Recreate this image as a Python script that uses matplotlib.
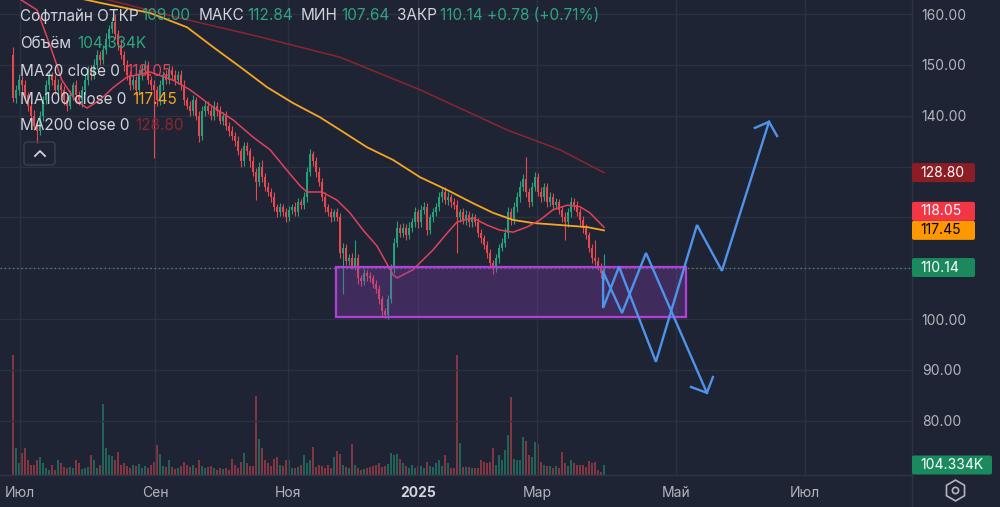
import numpy as np
import matplotlib
matplotlib.use("Agg")
import matplotlib.pyplot as plt
from matplotlib.patches import Rectangle, FancyBboxPatch

plt.rcParams['font.family'] = ['Inter', 'DejaVu Sans']

# ---- daily bars, Softline ----
first_open = 152.0
closes = [
    143.5, 145, 147, 146, 144, 142, 140, 138, 137, 140,
    143, 146, 148, 147, 145, 146, 145, 143, 142, 144,
    146, 144, 143, 145, 147, 149, 148, 150, 152, 151,
    153, 155, 157, 158.5, 156, 154, 152, 150, 148, 146,
    147, 145, 148, 149, 150, 147, 146, 145, 143, 146,
    148, 147, 149, 148, 147, 148, 146, 143, 142, 141,
    143, 140, 136, 141, 142, 141, 140, 142, 141, 139,
    140, 138, 137, 136, 135, 133, 131, 134, 133, 131,
    129, 127, 130, 128, 126, 125, 124, 122, 121, 122,
    121, 120, 121.5, 122, 121, 123, 122.5, 124, 129, 132.5,
    131, 129, 127, 124, 122, 121, 120, 121, 120, 113,
    114, 111.5, 112, 110.5, 112, 108, 107.5, 109, 108.5, 108,
    107, 106, 104, 101.5, 100.8, 104, 110, 115, 118, 117,
    118, 116.5, 118, 119, 121, 119, 121.5, 122, 117.5, 120,
    121, 122, 124, 125, 123.5, 124, 123, 122.5, 120, 121,
    119.5, 120.5, 119, 120, 119, 117, 116, 114.5, 113, 111,
    110, 112, 114, 115, 117, 121, 119.5, 122, 124, 126,
    127.5, 125, 123, 126, 128, 125, 124, 126, 123, 124,
    122.5, 123, 121.5, 120, 119, 121, 123, 122.5, 121, 119.5,
    118, 116.5, 114, 112, 111.5, 110.5, 109, 110.14,
]
wick_hi = [
    1.5, 1.0, 1.2, 0.8, 1.0, 0.6, 0.9, 1.2, 0.7, 1.0,
    0.8, 1.1, 0.9, 0.6, 1.0, 1.2, 0.7, 0.9, 0.8, 1.0,
    0.7, 1.0, 0.8, 0.9, 1.2, 0.8, 1.0, 1.1, 0.9, 0.8,
    1.0, 1.2, 0.9, 1.0, 1.5, 0.8, 1.0, 0.7, 0.9, 0.8,
    1.0, 0.8, 1.2, 0.9, 1.0, 0.7, 0.8, 1.0, 0.9, 1.1,
    0.8, 1.0, 0.9, 0.7, 1.0, 0.8, 0.9, 1.0, 0.6, 0.8,
    1.0, 0.7, 0.9, 1.0, 0.8, 0.9, 1.0, 0.8, 0.7, 0.9,
    0.8, 1.0, 0.7, 0.9, 0.8, 1.0, 0.6, 0.8, 0.9, 0.7,
    1.0, 0.8, 0.9, 1.2, 0.8, 1.0, 0.7, 0.9, 0.6, 0.8,
    0.7, 0.9, 0.8, 0.6, 1.0, 0.8, 0.7, 0.9, 1.0, 1.0,
    0.6, 0.8, 1.0, 0.7, 0.9, 0.6, 0.8, 0.7, 0.9, 0.8,
    0.9, 0.7, 0.8, 1.0, 3.5, 0.8, 0.6, 0.9, 0.7, 0.8,
    0.7, 0.6, 0.8, 0.5, 0.6, 0.8, 0.9, 1.0, 1.2, 0.8,
    0.9, 0.7, 1.0, 0.8, 1.0, 0.7, 0.9, 1.0, 0.8, 0.7,
    0.9, 0.8, 1.0, 0.7, 1.0, 1.0, 0.6, 0.8, 0.9, 0.7,
    0.8, 0.9, 0.7, 0.8, 0.6, 0.8, 0.7, 0.6, 0.8, 0.7,
    0.6, 0.9, 0.8, 1.0, 0.9, 1.0, 0.8, 1.1, 1.0, 1.2,
    1.0, 4.4, 0.8, 1.0, 1.0, 0.8, 0.9, 0.7, 0.8, 1.0,
    0.8, 0.9, 0.7, 0.8, 1.0, 0.9, 1.0, 0.8, 0.7, 0.9,
    0.8, 0.7, 0.6, 0.8, 3.5, 0.7, 0.6, 2.7,
]
wick_lo = [
    0.8, 1.0, 0.9, 1.2, 0.8, 1.0, 1.1, 0.9, 2.4, 0.8,
    1.0, 0.7, 0.9, 1.0, 0.8, 0.9, 1.1, 0.8, 1.0, 0.7,
    0.9, 1.0, 0.8, 1.2, 0.7, 0.9, 1.0, 0.8, 0.9, 1.0,
    0.8, 0.9, 1.0, 0.7, 0.9, 1.0, 0.8, 1.2, 0.9, 1.0,
    0.8, 1.0, 0.7, 0.9, 1.0, 0.8, 0.9, 13.3, 1.0, 0.8,
    0.9, 0.7, 0.8, 1.0, 0.9, 0.8, 1.0, 0.9, 0.7, 1.0,
    0.8, 0.9, 1.2, 0.8, 1.0, 0.7, 0.9, 0.8, 1.0, 0.7,
    0.9, 0.8, 1.0, 0.7, 0.9, 0.8, 1.0, 0.9, 0.8, 1.0,
    0.9, 3.6, 0.8, 1.0, 0.9, 0.7, 1.0, 0.8, 0.9, 0.7,
    0.8, 1.0, 0.7, 0.9, 0.8, 0.7, 0.9, 0.8, 1.0, 0.9,
    0.8, 1.0, 0.9, 0.8, 1.0, 0.7, 0.9, 0.8, 0.7, 1.0,
    8.0, 0.8, 0.9, 0.7, 0.8, 1.0, 0.9, 0.8, 1.0, 0.7,
    0.9, 0.8, 1.0, 0.9, 0.5, 0.8, 0.9, 1.0, 0.8, 0.9,
    0.8, 1.0, 0.7, 0.9, 0.8, 1.0, 0.8, 0.9, 1.0, 0.8,
    0.9, 0.8, 0.7, 0.9, 0.8, 1.0, 0.9, 0.8, 7.0, 0.9,
    0.8, 1.0, 0.9, 0.8, 0.7, 0.9, 1.0, 0.8, 0.9, 1.0,
    1.2, 0.8, 0.9, 0.7, 0.8, 1.0, 0.9, 0.8, 0.9, 1.0,
    0.8, 0.9, 1.0, 0.8, 0.9, 0.7, 1.0, 0.8, 0.9, 0.8,
    1.0, 0.8, 0.9, 1.0, 3.5, 0.8, 0.9, 1.0, 0.8, 0.9,
    1.0, 0.8, 0.9, 1.0, 0.8, 0.9, 1.0, 1.36,
]
# volume in thousands
volumes = [
    1250, 280, 130, 225, 280, 155, 100, 100, 155, 190,
    120, 70, 50, 100, 50, 160, 120, 85, 70, 85,
    70, 155, 130, 60, 75, 85, 210, 155, 70, 100,
    745, 280, 210, 200, 155, 240, 100, 120, 90, 70,
    100, 90, 110, 70, 90, 70, 100, 140, 310, 220,
    90, 85, 155, 85, 60, 70, 90, 140, 100, 85,
    100, 70, 155, 90, 70, 85, 90, 70, 50, 70,
    60, 70, 50, 170, 100, 70, 140, 230, 130, 90,
    90, 820, 370, 280, 155, 130, 90, 170, 190, 100,
    90, 155, 160, 70, 70, 85, 100, 210, 130, 155,
    290, 85, 100, 90, 70, 100, 70, 190, 250, 220,
    100, 85, 70, 320, 100, 70, 50, 60, 70, 80,
    90, 100, 120, 85, 90, 110, 225, 210, 220, 170,
    120, 90, 70, 100, 70, 90, 90, 70, 140, 90,
    85, 120, 155, 90, 210, 120, 70, 70, 1250, 335,
    85, 85, 80, 70, 70, 70, 155, 140, 120, 140,
    280, 100, 210, 155, 260, 415, 810, 170, 155, 160,
    400, 355, 210, 190, 340, 320, 140, 100, 90, 90,
    70, 90, 70, 240, 120, 90, 155, 120, 100, 100,
    100, 85, 150, 130, 140, 50, 35, 104.334,
]

# moving averages (bar index, price)
ma20_x = [1.3, 8, 12.3, 16.3, 20.7, 24.7, 29, 33.3, 38, 45.7, 53.3, 59, 66.7, 73.3,
          80, 85.7, 90.7, 95.7, 98, 103, 108, 112.3, 116.7, 121.3, 126.7, 128, 133.3,
          140, 144.7, 148, 153.3, 158, 162.3, 166.7, 171.3, 175.7, 180, 184.7, 189,
          192.3, 197]
ma20_y = [163.3, 160.8, 153.9, 147.0, 143.1, 141.5, 143.1, 145.5, 147.6, 148.6, 147.0,
          145.1, 141.7, 139.2, 135.8, 133.3, 129.7, 126.2, 125.0, 125.0, 123.4, 120.9,
          117.5, 114.4, 108.7, 108.1, 109.7, 113.6, 116.9, 119.1, 119.9, 118.5, 117.5,
          117.1, 118.1, 119.5, 121.5, 122.4, 122.1, 120.9, 118.05]
ma100_x = [21.3, 29, 45.7, 58, 66.7, 75.7, 84.7, 93.3, 102.3, 109, 118, 126.7, 135.7,
           144.7, 153.3, 160, 166.7, 173.3, 182.3, 191.3, 197]
ma100_y = [163.2, 162.2, 160.2, 157.4, 153.5, 149.6, 145.6, 142.5, 139.7, 137.2, 133.8,
           131.3, 127.9, 125.4, 122.8, 120.9, 119.5, 118.9, 118.5, 118.1, 117.45]
ma200_x = [29, 42.3, 55.7, 82.3, 109, 135.7, 164.7, 182.3, 197]
ma200_y = [163.2, 161.2, 159.2, 155.5, 151.5, 145.1, 137.2, 133.3, 128.8]

# drawn support zone and the two scenarios
zone_x = [107.7, 224.3]
zone_y = [100.4, 110.2]
bull_x = [196.7, 196.7, 202, 214.3, 228, 236.3, 252]
bull_y = [109.3, 102.2, 110.3, 91.6, 118.5, 109.5, 138.8]
bull_head_x = [247.3, 252, 254.7]
bull_head_y = [137.6, 138.8, 136.0]
bear_x = [196.7, 203, 211, 231.3]
bear_y = [109.3, 101.2, 113.0, 85.5]
bear_head_x = [226, 231.3, 233.3]
bear_head_y = [86.65, 85.5, 88.6]

month_pos = [2.33, 47.33, 91.67, 135, 174.67, 221, 264]
month_labels = ['Июл', 'Сен', 'Ноя', '2025', 'Мар', 'Май', 'Июл']
price_ticks = [80, 90, 100, 110, 120, 130, 140, 150, 160]

last_price = 110.14
ma_last = {'ma20': 118.05, 'ma100': 117.45, 'ma200': 128.80}

# ---- colours ----
bg = '#1e2433'
grid = '#2a3142'
txt = '#b2b5be'
lab = '#d1d4dc'
green = '#26a17b'
red = '#e5484f'
c_ma20 = '#e0425a'
c_ma100 = '#f5a623'
c_ma200 = '#8b2530'
blue = '#4f93ea'

W, H = 1000, 507
fig = plt.figure(figsize=(W / 100, H / 100), dpi=100, facecolor=bg)
rect = [0, 32 / H, 912 / W, 475 / H]
axv = fig.add_axes(rect)
ax = fig.add_axes(rect)
axv.set_facecolor(bg)
ax.set_facecolor('none')

c = np.array(closes)
o = np.concatenate([[first_open], c[:-1]])
hi = np.maximum(o, c) + np.array(wick_hi)
lo = np.minimum(o, c) - np.array(wick_lo)
idx = np.arange(len(c))
cols = np.where(c >= o, green, red)

# volume
axv.bar(idx, volumes, width=0.6, color=cols, alpha=0.5, linewidth=0)
axv.set_ylim(0, 4950)
axv.set_xlim(-13 / 3, 899 / 3)
axv.axis('off')

# grid
ax.set_axisbelow(True)
ax.grid(True, color=grid, lw=1)

# candles
ax.vlines(idx, lo, hi, colors=cols, lw=0.8, zorder=3)
ax.bar(idx, np.maximum(np.abs(c - o), 0.2), bottom=np.minimum(o, c), width=0.66,
       color=cols, linewidth=0, zorder=3)

ax.plot(ma200_x, ma200_y, color=c_ma200, lw=1.1, zorder=4)
ax.plot(ma100_x, ma100_y, color=c_ma100, lw=1.3, zorder=4)
ax.plot(ma20_x, ma20_y, color=c_ma20, lw=1.1, zorder=4)

ax.axhline(last_price, color='#4f7d6f', lw=1, ls=(0, (1, 2)), zorder=2)

ax.add_patch(Rectangle((zone_x[0], zone_y[0]), zone_x[1] - zone_x[0], zone_y[1] - zone_y[0],
                       fc=(0.55, 0.25, 0.75, 0.3), ec='#b040d8', lw=1.6, zorder=5))

for xs, ys in [(bull_x, bull_y), (bull_head_x, bull_head_y),
               (bear_x, bear_y), (bear_head_x, bear_head_y)]:
    ax.plot(xs, ys, color=blue, lw=1.7, zorder=6, solid_joinstyle='miter')

ax.set_xlim(-13 / 3, 899 / 3)
ax.set_ylim(160 - 461 / 5.085, 160 + 14 / 5.085)
ax.yaxis.tick_right()
ax.set_yticks(price_ticks)
ax.set_xticks(month_pos)
ax.set_xticklabels(month_labels)
ax.tick_params(axis='y', length=0, pad=7, colors=txt, labelsize=10)
ax.tick_params(axis='x', length=0, pad=8, colors=txt, labelsize=10)
ax.get_xticklabels()[3].set_fontweight('bold')
ax.get_xticklabels()[3].set_color(lab)
ax.get_xticklabels()[0].set_x(4)
for s in ax.spines.values():
    s.set_visible(False)

# ---- overlay in pixel units for the UI parts ----
ui = fig.add_axes([0, 0, 1, 1])
ui.set_xlim(0, W)
ui.set_ylim(H, 0)
ui.axis('off')
ui.plot([912, 912], [0, H], color='#2e3445', lw=1)
ui.plot([0, 912], [475, 475], color='#2e3445', lw=1)


def to_px(axis, val):
    return H - axis.transData.transform((0, val))[1]


# price tags on the scale; a higher one is pushed up when two collide
tags = [(ma_last['ma200'], '#8c1d24', 'white'),
        (ma_last['ma20'], '#f23645', 'white'),
        (ma_last['ma100'], '#ff9800', 'black'),
        (last_price, '#1a8a5e', 'white')]
tags.sort(key=lambda t: t[0])
tag_y = []
for p, fc, tc in tags:
    y = to_px(ax, p)
    if tag_y and tag_y[-1] - y < 19:
        y = tag_y[-1] - 19
    tag_y.append(y)


def tag(y, s, fc, tc, w=63):
    ui.add_patch(FancyBboxPatch((912, y - 9.5), w, 19, boxstyle='round,pad=0,rounding_size=2',
                                fc=fc, ec='none', zorder=10))
    ui.text(920, y, s, color=tc, fontsize=10, va='center', ha='left', zorder=11)


for (p, fc, tc), y in zip(tags, tag_y):
    tag(y, f'{p:.2f}', fc, tc)
tag(to_px(axv, volumes[-1]), f'{volumes[-1]:.3f}K', '#1a8a5e', 'white', w=80)

# scale labels hidden under a tag are dropped, as on the original
ylabels = []
for v in price_ticks:
    yp = to_px(ax, v)
    covered = any(abs(yp - ty) < 8 for ty in tag_y)
    ylabels.append('' if covered else f'{v:.2f}')
ax.set_yticklabels(ylabels)

# gear icon
ui.plot(955, 490, marker='h', ms=15, mfc='none', mec=txt, mew=1.2)
ui.plot(955, 490, marker='o', ms=4.5, mfc='none', mec=txt, mew=1.2)

# legend
renderer = fig.canvas.get_renderer()


def put_line(y, parts):
    x = 20
    for s, colr, gap in parts:
        t = ui.text(x, y, s, color=colr, fontsize=11, va='center', ha='left', zorder=12)
        x = t.get_window_extent(renderer).x1 + gap


val_g = '#2fa57f'
put_line(16, [('Софтлайн ОТКР', lab, 3), ('109.00', val_g, 8), ('МАКС', lab, 3),
              ('112.84', val_g, 8), ('МИН', lab, 3), ('107.64', val_g, 8),
              ('ЗАКР', lab, 3), ('110.14 +0.78 (+0.71%)', val_g, 0)])
put_line(43, [('Объём', lab, 6), ('104.334K', val_g, 0)])
put_line(71, [('MA20 close 0', lab, 6), ('118.05', c_ma20, 0)])
put_line(99, [('MA100 close 0', lab, 6), ('117.45', c_ma100, 0)])
put_line(126, [('MA200 close 0', lab, 6), ('128.80', c_ma200, 0)])

ui.add_patch(FancyBboxPatch((24, 142), 31, 23, boxstyle='round,pad=0,rounding_size=3',
                            fc='none', ec='#3a3f4b', lw=1))
ui.plot([35, 40, 45], [156, 151, 156], color=lab, lw=1.3)

fig.savefig('out.png', dpi=100, facecolor=bg)
